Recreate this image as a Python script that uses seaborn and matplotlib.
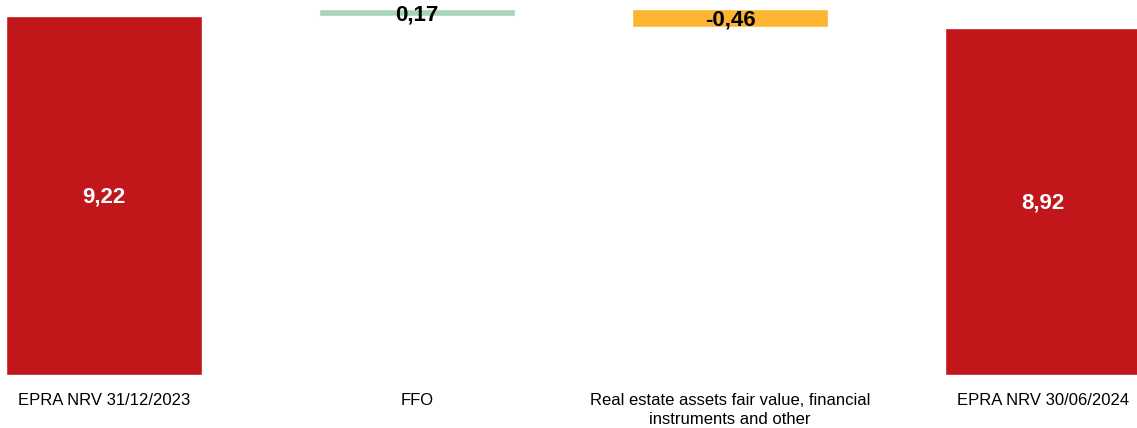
import numpy as np
import pandas as pd
import matplotlib as mpl
mpl.use("Agg")
import matplotlib.pyplot as plt
import seaborn as sns

categories = ["EPRA NRV 31/12/2023", "FFO",
              "Real estate assets fair value, financial\ninstruments and other",
              "EPRA NRV 30/06/2024"]
changes = [9.22, 0.17, -0.46]
total = 8.92
labels = ["9,22", "0,17", "-0,46", "8,92"]

red = "#C1171A"; green = "#A8D5BA"; orange = "#FBB530"

sns.set_style("white")
plt.rcParams['font.family'] = ['Liberation Sans', 'DejaVu Sans']

# running bottoms for the waterfall steps
heights = [changes[0], changes[1], changes[2], total]
bottoms = [0, changes[0], changes[0] + changes[1], 0]
colors = [red, green, orange, red]

fig = plt.figure(figsize=(11.37, 4.28), dpi=100)
ax = fig.add_axes([0, 53 / 428, 1, 375 / 428])

for i, (cat, h, b, c) in enumerate(zip(categories, heights, bottoms, colors)):
    sns.barplot(x=[cat], y=[h], bottom=b, order=categories, color=c,
                width=0.626, saturation=1, ax=ax)
    mid = b + h / 2
    txt_color = 'white' if i in (0, 3) else 'black'
    ax.text(i, mid - 0.05, labels[i], ha='center', va='center', color=txt_color,
            fontsize=16, fontweight='bold')

ax.set_xlim(-104 / 313, 1033 / 313)
ax.set_ylim(0, 9.63)
ax.set_yticks([])
ax.set_xlabel("")
ax.set_ylabel("")
ax.tick_params(axis='x', length=0, pad=13, labelsize=12, labelcolor='black')
for t in ax.get_xticklabels():
    t.set_linespacing(1.35)
sns.despine(ax=ax, left=True, bottom=True)

fig.savefig("out.png", dpi=100)
